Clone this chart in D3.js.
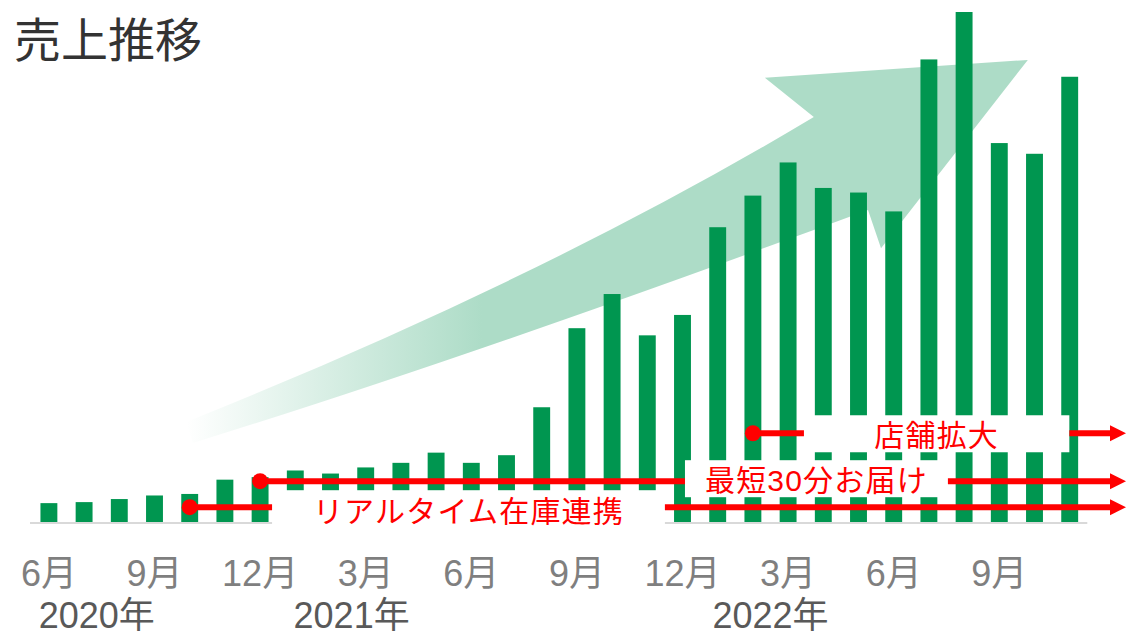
<!DOCTYPE html>
<html>
<head>
<meta charset="utf-8">
<script src="https://cdn.jsdelivr.net/npm/d3@7"></script>
<style>
  body { margin: 0; background: #fff; }
  text { font-family: "Liberation Sans", "Noto Sans CJK JP", sans-serif; }
</style>
</head>
<body>
<div class="chart"></div>
<script>

// data
var months = [
  "2020年6月", "2020年7月", "2020年8月", "2020年9月", "2020年10月", "2020年11月", "2020年12月",
  "2021年1月", "2021年2月", "2021年3月", "2021年4月", "2021年5月", "2021年6月", "2021年7月",
  "2021年8月", "2021年9月", "2021年10月", "2021年11月", "2021年12月",
  "2022年1月", "2022年2月", "2022年3月", "2022年4月", "2022年5月", "2022年6月", "2022年7月",
  "2022年8月", "2022年9月", "2022年10月", "2022年11月"
];
var sales = [
  3.7, 3.9, 4.5, 5.2, 5.5, 8.3, 8.8,
  10.1, 9.5, 10.7, 11.6, 13.6, 11.6, 13.1,
  22.5, 38.0, 44.7, 36.6, 40.6,
  57.8, 64.0, 70.5, 65.5, 64.6, 60.9, 90.7,
  100, 74.3, 72.2, 87.3
];
var tickMonths = ["2020年6月", "2020年9月", "2020年12月", "2021年3月", "2021年6月",
                  "2021年9月", "2021年12月", "2022年3月", "2022年6月", "2022年9月"];
var tickLabels = ["6月", "9月", "12月", "3月", "6月", "9月", "12月", "3月", "6月", "9月"];
var yearLabels = ["2020年", "2021年", "2022年"];
var milestoneLabels = ["リアルタイム在庫連携", "最短30分お届け", "店舗拡大"];
var milestoneStart = ["2020年10月", "2020年12月", "2022年2月"];

// layout
var svgWidth = 1132, svgHeight = 635;
var baseY = 522, topY = 12;
var green = "#009650", red = "#ff0000";

var svg = d3.select(".chart").append("svg")
    .attr("width", svgWidth)
    .attr("height", svgHeight);

var x = d3.scaleBand()
    .domain(months)
    .range([31.3, 1087.3])
    .paddingInner(0.52)
    .paddingOuter(0.26);

var y = d3.scaleLinear()
    .domain([0, 100])
    .range([baseY, topY]);

// month index (can be fractional) -> pixel centre
function px(i) {
  return x(months[0]) + x.bandwidth() / 2 + i * x.step();
}

// big background arrow, points in [month index, value]
var arrowPts = {
  tailTop: [3.9, 19.6], c1: [14.09, 47.8], notch: [21.73, 79.4],
  headLeft: [20.34, 87.1], tip: [27.81, 90.6], headLow: [23.64, 53.7],
  shaftLow: [23.27, 61.2], c2: [12.05, 32.5], tailLow: [4.09, 15.5]
};
function P(k) { return [px(arrowPts[k][0]), y(arrowPts[k][1])]; }

var defs = svg.append("defs");
var grad = defs.append("linearGradient")
    .attr("id", "arrowFade")
    .attr("gradientUnits", "userSpaceOnUse")
    .attr("x1", px(3.9)).attr("y1", 0)
    .attr("x2", px(12.3)).attr("y2", 0);
grad.append("stop").attr("offset", 0).attr("stop-color", "#addcc7").attr("stop-opacity", 0);
grad.append("stop").attr("offset", 1).attr("stop-color", "#addcc7").attr("stop-opacity", 1);

var ap = d3.path();
ap.moveTo.apply(ap, P("tailTop"));
ap.quadraticCurveTo(P("c1")[0], P("c1")[1], P("notch")[0], P("notch")[1]);
ap.lineTo.apply(ap, P("headLeft"));
ap.lineTo.apply(ap, P("tip"));
ap.lineTo.apply(ap, P("headLow"));
ap.lineTo.apply(ap, P("shaftLow"));
ap.quadraticCurveTo(P("c2")[0], P("c2")[1], P("tailLow")[0], P("tailLow")[1]);
ap.closePath();

svg.append("path")
    .attr("d", ap.toString())
    .attr("fill", "url(#arrowFade)");

// bars
svg.append("g")
  .selectAll("rect")
  .data(sales)
  .enter()
  .append("rect")
    .attr("x", function(d, i) { return x(months[i]); })
    .attr("y", function(d) { return y(d); })
    .attr("width", x.bandwidth())
    .attr("height", function(d) { return baseY - y(d); })
    .attr("fill", green);

// baseline
svg.append("line")
    .attr("x1", 30).attr("x2", x.range()[1])
    .attr("y1", baseY + 1).attr("y2", baseY + 1)
    .attr("stroke", "#d9d9d9")
    .attr("stroke-width", 2);

// milestone annotations
var msLevel = [2.9, 8.0, 17.4];                       // value units
var msBox = [[6.34, 17.5], [18.07, 25.54], [21.45, 28.99]]; // month index
var msBoxOff = [[-17, 23], [-21, 16], [-18, 19]];     // px around line
var msTextDy = [4.5, -1, 2];
var arrowEnd = 1126;

var ms = svg.append("g");
milestoneLabels.forEach(function(label, k) {
  var ly = y(msLevel[k]);
  var x0 = px(months.indexOf(milestoneStart[k]));
  var bx0 = px(msBox[k][0]), bx1 = px(msBox[k][1]);

  ms.append("rect")
      .attr("x", bx0).attr("y", ly + msBoxOff[k][0])
      .attr("width", bx1 - bx0)
      .attr("height", msBoxOff[k][1] - msBoxOff[k][0])
      .attr("fill", "#fff");

  ms.append("line")
      .attr("x1", x0).attr("x2", bx0)
      .attr("y1", ly).attr("y2", ly)
      .attr("stroke", red).attr("stroke-width", 6);

  ms.append("line")
      .attr("x1", bx1).attr("x2", arrowEnd - 12)
      .attr("y1", ly).attr("y2", ly)
      .attr("stroke", red).attr("stroke-width", 6);

  ms.append("path")
      .attr("d", "M" + (arrowEnd - 16) + "," + (ly - 8) + "L" + arrowEnd + "," + ly +
                 "L" + (arrowEnd - 16) + "," + (ly + 8) + "Z")
      .attr("fill", red);

  ms.append("circle")
      .attr("cx", x0).attr("cy", ly)
      .attr("r", 8)
      .attr("fill", red);

  ms.append("text")
      .attr("x", (bx0 + bx1) / 2)
      .attr("y", ly + msTextDy[k])
      .attr("text-anchor", "middle")
      .attr("dominant-baseline", "central")
      .attr("font-size", 30)
      .attr("letter-spacing", 1.2)
      .attr("fill", red)
      .text(label);
});

// month axis
var bottomAxis = d3.axisBottom(x)
    .tickValues(tickMonths)
    .tickFormat(function(d, i) { return tickLabels[i]; })
    .tickSize(0);

var xAxis = svg.append("g")
    .attr("transform", "translate(0," + baseY + ")")
    .call(bottomAxis);
xAxis.select(".domain").remove();
xAxis.selectAll("text")
    .attr("y", 64)
    .attr("dy", null)
    .attr("font-family", null)
    .attr("font-size", 36)
    .attr("fill", "#7f7f7f");

// years
var yearPos = [1.36, 8.6, 20.5];
var yearBase = [628, 628, 628];
svg.selectAll(".year")
  .data(yearLabels)
  .enter()
  .append("text")
    .attr("class", "year")
    .attr("x", function(d, i) { return px(yearPos[i]); })
    .attr("y", function(d, i) { return yearBase[i]; })
    .attr("text-anchor", "middle")
    .attr("font-size", 36)
    .attr("fill", "#595959")
    .text(function(d) { return d; });

// title
svg.append("text")
    .attr("x", 14)
    .attr("y", 57)
    .attr("font-size", 47)
    .attr("fill", "#333")
    .text("売上推移");

</script>
</body>
</html>
